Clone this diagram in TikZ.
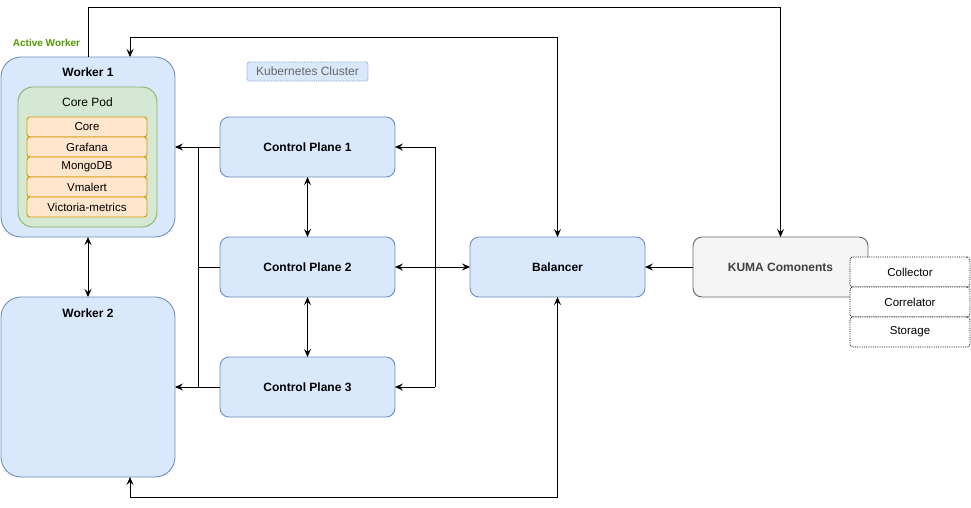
\documentclass[tikz,border=0pt]{standalone}
\usepackage{fontspec}
\setmainfont{Liberation Sans}
\usetikzlibrary{arrows.meta,positioning}
\definecolor{bluefill}{HTML}{DAE8FC}
\definecolor{bluestroke}{HTML}{6C8EBF}
\definecolor{greenfill}{HTML}{D5E8D4}
\definecolor{greenstroke}{HTML}{82B366}
\definecolor{orangefill}{HTML}{FFE6CC}
\definecolor{orangestroke}{HTML}{D79B00}
\definecolor{grayfill}{HTML}{F5F5F5}
\definecolor{graystroke}{HTML}{666666}
\definecolor{activegreen}{HTML}{4D9900}
\tikzset{
  every node/.style={inner sep=0pt, outer sep=0pt},
  bluebox/.style={draw=bluestroke, fill=bluefill, line width=0.9pt, rounded corners=9pt,
    minimum width=175pt, minimum height=60pt, font=\fontsize{12}{14}\selectfont\bfseries},
  worker/.style={draw=bluestroke, fill=bluefill, line width=0.9pt, rounded corners=20pt,
    minimum width=174pt, minimum height=180pt},
  pod/.style={draw=greenstroke, fill=greenfill, line width=0.9pt, rounded corners=15pt,
    minimum width=139pt, minimum height=140pt},
  item/.style={draw=orangestroke, fill=orangefill, line width=0.9pt, rounded corners=3pt,
    minimum width=120pt, minimum height=20pt, font=\fontsize{11.5}{13}\selectfont},
  comp/.style={draw=black, densely dotted, fill=white, line width=0.8pt, rounded corners=3pt,
    minimum width=120pt, minimum height=30pt, font=\fontsize{11.5}{13}\selectfont},
  conn/.style={draw=black, line width=0.9pt},
  arr/.style={conn, -{Stealth[length=8pt,width=7pt,inset=3pt]}},
  biarr/.style={conn, {Stealth[length=8pt,width=7pt,inset=3pt]}-{Stealth[length=8pt,width=7pt,inset=3pt]}},
}
\begin{document}
\begin{tikzpicture}[x=1pt,y=-1pt]
\useasboundingbox (0,0) rectangle (971,507);

% Workers
\node[worker] (w1) at (88,147) {};
\node[font=\fontsize{12}{14}\selectfont\bfseries, anchor=center] (w1t) at (88,72) {Worker 1};
\node[pod] (pod) at (87.5,157) {};
\node[font=\fontsize{12}{14}\selectfont] (podt) at (87.5,102) {Core Pod};
\node[item] (i1) at (87,127) {Core};
\node[item] (i2) at (87,147) {Grafana};
\node[item] (i3) at (87,167) {MongoDB};
\node[item] (i4) at (87,187) {Vmalert};
\node[item] (i5) at (87,207) {Victoria-metrics};
\node[font=\fontsize{10}{12}\selectfont\bfseries, text=activegreen] (aw) at (46.5,43) {Active Worker};

\node[worker] (w2) at (88,387) {};
\node[font=\fontsize{12}{14}\selectfont\bfseries] (w2t) at (88,313) {Worker 2};

% Kubernetes cluster label
\node[draw=bluestroke, fill=bluefill, densely dotted, line width=0.8pt, rounded corners=2pt,
  minimum width=121pt, minimum height=19pt, text=graystroke,
  font=\fontsize{12}{14}\selectfont] (k8s) at (307.5,71.5) {Kubernetes Cluster};

% Control planes
\node[bluebox] (cp1) at (307.5,147) {Control Plane 1};
\node[bluebox] (cp2) at (307.5,267) {Control Plane 2};
\node[bluebox] (cp3) at (307.5,387) {Control Plane 3};

% Balancer
\node[bluebox] (bal) at (557.5,267) {Balancer};

% KUMA
\node[bluebox, draw=graystroke, fill=grayfill, text=black!80] (kuma) at (780.5,267) {};
\node[font=\fontsize{12}{14}\selectfont\bfseries, text=black!75] (kumat) at (780.5,267) {KUMA Comonents};
\node[comp] (col) at (910,272) {Collector};
\node[comp] (cor) at (910,302) {Correlator};
\node[comp] (sto) at (910,332) {Storage};

% coordinates
\coordinate (lb1) at (198,147);
\coordinate (lb3) at (198,387);
\coordinate (rb1) at (435,147);
\coordinate (rb3) at (435,387);

% connectors
\draw[arr] (w1.north) -- (88,7) -| (kuma.north);
\draw[biarr] (bal.north) |- (130,37) -- ([xshift=42pt]w1.north);
\draw[biarr] (bal.south) |- (130,497) -- ([xshift=42pt]w2.south);
\draw[arr] (kuma.west) -- (bal.east);
\draw[biarr] (cp2.east) -- (bal.west);
\draw[arr] (rb1) -- (cp1.east);
\draw[arr] (rb3) -- (cp3.east);
\draw[conn] (rb1) -- (rb3);
\draw[arr] (cp1.west) -- (w1.east);
\draw[arr] (cp3.west) -- (w2.east);
\draw[conn] (lb1) -- (lb3);
\draw[conn] (cp2.west) -- (198,267);
\draw[biarr] (cp1.south) -- (cp2.north);
\draw[biarr] (cp2.south) -- (cp3.north);
\draw[biarr] (w1.south) -- (w2.north);
\end{tikzpicture}
\end{document}
